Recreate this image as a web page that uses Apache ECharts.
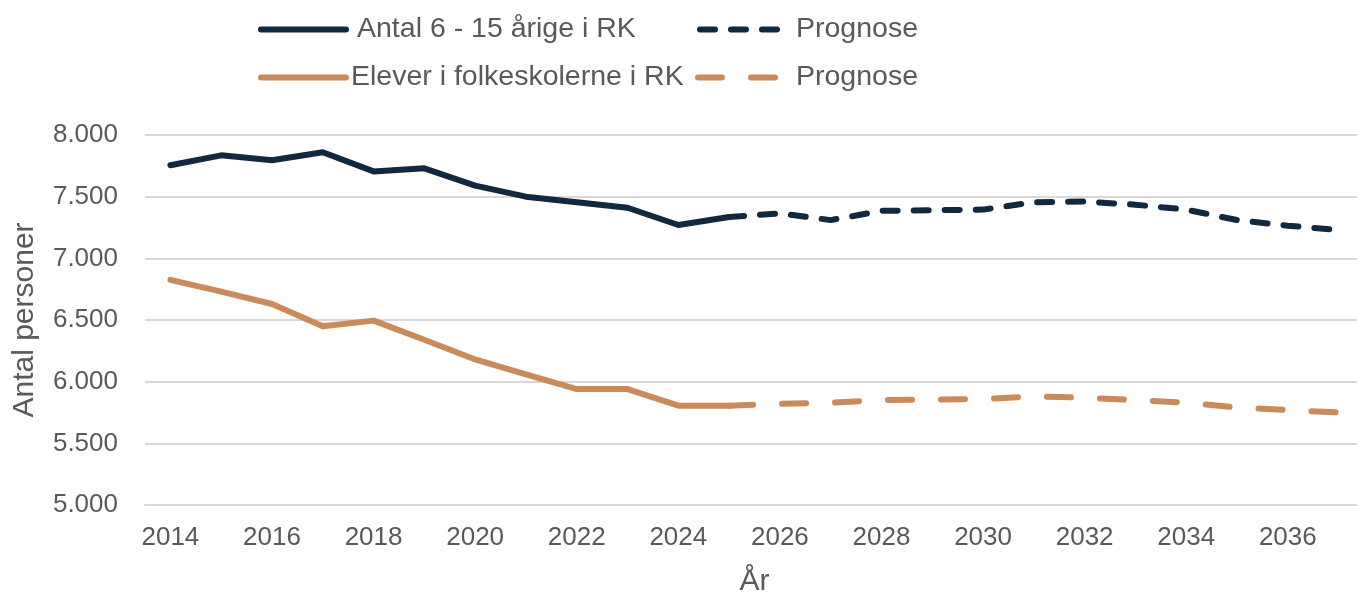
<!DOCTYPE html>
<html>
<head>
<meta charset="utf-8">
<script src="https://cdn.jsdelivr.net/npm/echarts@6/dist/echarts.min.js"></script>
<style>
html,body{margin:0;padding:0;background:#fff;}
#chart{width:1357px;height:597px;}
</style>
</head>
<body>
<div id="chart"></div>
<script>
const years = ['2014','2015','2016','2017','2018','2019','2020','2021','2022','2023','2024','2025','2026','2027','2028','2029','2030','2031','2032','2033','2034','2035','2036','2037'];
const antalActual = [7755, 7835, 7795, 7860, 7705, 7730, 7590, 7500, 7455, 7410, 7270, 7335, null, null, null, null, null, null, null, null, null, null, null, null];
const antalPrognose = [null, null, null, null, null, null, null, null, null, null, null, 7335, 7365, 7310, 7385, 7390, 7395, 7455, 7460, 7435, 7395, 7310, 7265, 7230];
const eleverActual = [6825, 6730, 6630, 6450, 6495, 6340, 6180, 6060, 5940, 5940, 5805, 5805, null, null, null, null, null, null, null, null, null, null, null, null];
const eleverPrognose = [null, null, null, null, null, null, null, null, null, null, null, 5805, 5820, 5830, 5850, 5855, 5860, 5880, 5870, 5850, 5830, 5790, 5770, 5750];
const yTicks = { min: 5000, max: 8000, step: 500 };

const dark = '#12283f';
const tan = '#c98b5b';
const txt = '#595959';

const chart = echarts.init(document.getElementById('chart'));
function legendAt(left, top, name, pad, label) {
  const l = {
    orient: 'horizontal', padding: 0, itemWidth: 85, itemHeight: 20,
    left: left, top: top, data: [name], selectedMode: false,
    itemStyle: { color: 'rgba(0,0,0,0)', borderWidth: 0 },
    lineStyle: { width: 6, cap: 'round' },
    textStyle: { fontFamily: 'Liberation Sans', fontSize: 28.5, color: txt, padding: [0, 0, 0, pad] }
  };
  if (label) l.formatter = function () { return label; };
  return l;
}
chart.setOption({
  animation: false,
  backgroundColor: '#fff',
  legend: [
    legendAt(258, 15, 'Antal 6 - 15 årige i RK', 6),
    legendAt(697, 15, 'Prognose', 6),
    legendAt(258, 63, 'Elever i folkeskolerne i RK', 0),
    legendAt(695, 63, 'Prognose (elever)', 8, 'Prognose')
  ],
  grid: { left: 145, top: 135, width: 1219, height: 370, containLabel: false, outerBoundsMode: 'none' },
  xAxis: {
    type: 'category',
    data: years,
    boundaryGap: true,
    axisLine: { show: true, lineStyle: { color: '#d9d9d9', width: 2 } },
    axisTick: { show: false },
    axisLabel: { interval: 1, margin: 20, fontFamily: 'Liberation Sans', fontSize: 26, color: txt },
    name: 'År',
    nameLocation: 'middle',
    nameGap: 62,
    nameTextStyle: { fontFamily: 'Liberation Sans', fontSize: 30, color: txt, verticalAlign: 'top' }
  },
  yAxis: {
    type: 'value',
    min: yTicks.min, max: yTicks.max, interval: yTicks.step,
    axisLine: { show: false },
    axisTick: { show: false },
    splitLine: { show: true, lineStyle: { color: '#d9d9d9', width: 2 } },
    axisLabel: {
      margin: 27, fontFamily: 'Liberation Sans', fontSize: 26, color: txt,
      formatter: function (v) { return String(v).replace(/\B(?=(\d{3})+(?!\d))/g, '.'); }
    },
    name: 'Antal personer',
    nameLocation: 'middle',
    nameGap: 105,
    nameRotate: 90,
    nameTextStyle: { fontFamily: 'Liberation Sans', fontSize: 30, color: txt }
  },
  series: [
    { name: 'Antal 6 - 15 årige i RK', type: 'line', data: antalActual, symbol: 'none', color: dark,
      lineStyle: { color: dark, width: 6, cap: 'round', join: 'round' } },
    { name: 'Prognose', type: 'line', data: antalPrognose, symbol: 'none', color: dark,
      lineStyle: { color: dark, width: 6, type: [15, 16], cap: 'round', join: 'round' } },
    { name: 'Elever i folkeskolerne i RK', type: 'line', data: eleverActual, symbol: 'none', color: tan,
      lineStyle: { color: tan, width: 6, cap: 'round', join: 'round' } },
    { name: 'Prognose (elever)', type: 'line', data: eleverPrognose, symbol: 'none', color: tan,
      lineStyle: { color: tan, width: 6, type: [24, 29], cap: 'round', join: 'round' } }
  ]
});
</script>
</body>
</html>
